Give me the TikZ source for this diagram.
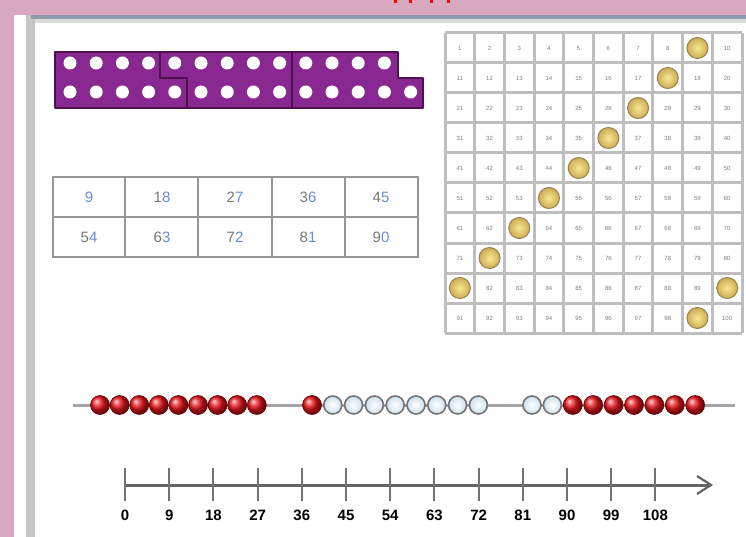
\documentclass[tikz,border=0pt]{standalone}
\usepackage{fontspec}
\setmainfont{Liberation Sans}
\definecolor{pinkbg}{RGB}{216,169,190}
\definecolor{sidebar}{RGB}{198,198,198}
\definecolor{topband}{RGB}{140,154,174}
\definecolor{topband2}{RGB}{216,220,212}
\definecolor{framefill}{RGB}{138,40,145}
\definecolor{frameedge}{RGB}{78,18,80}
\definecolor{tgray}{RGB}{120,120,120}
\definecolor{tblue}{RGB}{105,140,215}
\definecolor{tline}{RGB}{150,150,150}
\definecolor{hline}{RGB}{190,190,190}
\definecolor{hnum}{RGB}{125,125,125}
\definecolor{goldin}{RGB}{250,230,145}
\definecolor{goldout}{RGB}{205,172,85}
\definecolor{goldedge}{RGB}{150,130,80}
\definecolor{wire}{RGB}{165,165,165}
\definecolor{beadedge}{RGB}{115,115,115}
\definecolor{beadblue}{RGB}{170,205,225}
\definecolor{axis}{RGB}{100,100,100}
\definecolor{beadred}{RGB}{235,20,25}
\newcommand\tnum[2]{\textcolor{tgray}{#1}\textcolor{tblue}{#2}}
\begin{document}
\begin{tikzpicture}[x=1pt,y=-1pt,
  tenframe/.style={fill=framefill,draw=frameedge,line width=2.5pt,line join=round},
  framediv/.style={draw=frameedge,line width=2.5pt,line join=round},
  tablegrid/.style={draw=tline,line width=2.5pt},
  tabnum/.style={font=\fontsize{15}{16}\selectfont,inner sep=0pt},
  hgrid/.style={draw=hline,line width=3pt},
  hcell/.style={font=\fontsize{6}{7}\selectfont,text=hnum,inner sep=0pt},
  counter/.style={circle,minimum size=21pt,inner sep=0pt,draw=goldedge,line width=1pt,
    inner color=goldin,outer color=goldout},
  redbead/.style={circle,minimum size=19pt,inner sep=0pt,ball color=beadred,draw=red!40!black,line width=0.6pt},
  whitebead/.style={circle,minimum size=18pt,inner sep=0pt,draw=beadedge,line width=1.6pt,
    inner color=white,outer color=beadblue!60},
  tick/.style={draw=axis!90,line width=2pt},
  numlab/.style={font=\fontsize{15}{16}\selectfont\bfseries,inner sep=0pt}]
\useasboundingbox (0,0) rectangle (746,537);

% page frame
\fill[pinkbg] (0,0) rectangle (746,537);
\fill[white] (14,15) rectangle (746,537);
\fill[sidebar] (26,15) rectangle (35,537);
\fill[topband] (31,15) rectangle (746,19);
\fill[topband2] (35,19) rectangle (746,23);
\foreach \x in {395,410,431,448} \fill[red] (\x-1.5,0) rectangle (\x+1.5,3);

% three ten-frames holding nine dots each
\path[tenframe] (55,52) -- (398,52) -- (398,78) -- (423,78) -- (423,108) -- (55,108) -- cycle;
\draw[framediv] (160,52) -- (160,78) -- (187,78) -- (187,108);
\draw[framediv] (292,52) -- (292,108);
\foreach \i in {0,...,12} \fill[white] ({70+26.2*\i},63) circle (6.5pt);
\foreach \i in {0,...,13} \fill[white] ({70+26.2*\i},92) circle (6.5pt);

% table of multiples of nine
\draw[tablegrid] (53,177) rectangle (418,257);
\draw[tablegrid] (53,217) -- (418,217);
\foreach \x in {125,198,272,345} \draw[tablegrid] (\x,177) -- (\x,257);
\node[tabnum] (m9)  at (89,197)  {\tnum{}{9}};
\node[tabnum] (m18) at (162,197) {\tnum{1}{8}};
\node[tabnum] (m27) at (235,197) {\tnum{2}{7}};
\node[tabnum] (m36) at (308,197) {\tnum{3}{6}};
\node[tabnum] (m45) at (381,197) {\tnum{4}{5}};
\node[tabnum] (m54) at (89,237)  {\tnum{5}{4}};
\node[tabnum] (m63) at (162,237) {\tnum{6}{3}};
\node[tabnum] (m72) at (235,237) {\tnum{7}{2}};
\node[tabnum] (m81) at (308,237) {\tnum{8}{1}};
\node[tabnum] (m90) at (381,237) {\tnum{9}{0}};

% hundred square
\foreach \c in {0,...,10} \draw[hgrid] ({445+29.7*\c},33) -- ({445+29.7*\c},333);
\foreach \r in {0,...,10} \draw[hgrid] (445,{33+30*\r}) -- (742,{33+30*\r});
\foreach \r in {0,...,9} {
  \foreach \c in {0,...,9} {
    \pgfmathtruncatemacro\n{10*\r+\c+1}
    \node[hcell] (h\n) at ({445+29.7*(\c+0.5)},{33+30*(\r+0.5)}) {\n};
  }
}
\foreach \c/\r [count=\k] in {8/0,7/1,6/2,5/3,4/4,3/5,2/6,1/7,0/8,9/8,8/9}
  \node[counter] (c\k) at ({445+29.7*(\c+0.5)},{33+30*(\r+0.5)}) {};

% bead string
\coordinate (wireL) at (73,405);
\coordinate (wireR) at (735,405);
\draw[wire,line width=3pt] (wireL) -- (wireR);
\foreach \k in {0,...,8} \node[redbead] (a\k) at ({100+19.6*\k},405) {};
\node[redbead] (b0) at (312,405) {};
\foreach \k in {1,...,8} \node[whitebead] (b\k) at ({312+20.8*\k},405) {};
\foreach \k in {0,1} \node[whitebead] (d\k) at ({532+20.4*\k},405) {};
\foreach \k in {2,...,8} \node[redbead] (d\k) at ({532+20.4*\k},405) {};

% number line counting in nines
\coordinate (nl0) at (125,485);
\coordinate (nlEnd) at (711,485);
\draw[draw=axis,line width=3pt] (nl0) -- (nlEnd);
\draw[draw=axis,line width=2.2pt,line join=miter] (697,476) -- (nlEnd) -- (697,494);
\foreach \v [count=\k from 0] in {0,9,18,27,36,45,54,63,72,81,90,99,108} {
  \draw[tick] ({125+44.2*\k},468) -- ({125+44.2*\k},501);
  \node[numlab] (n\v) at ({125+44.2*\k},515) {\v};
}
\end{tikzpicture}
\end{document}
